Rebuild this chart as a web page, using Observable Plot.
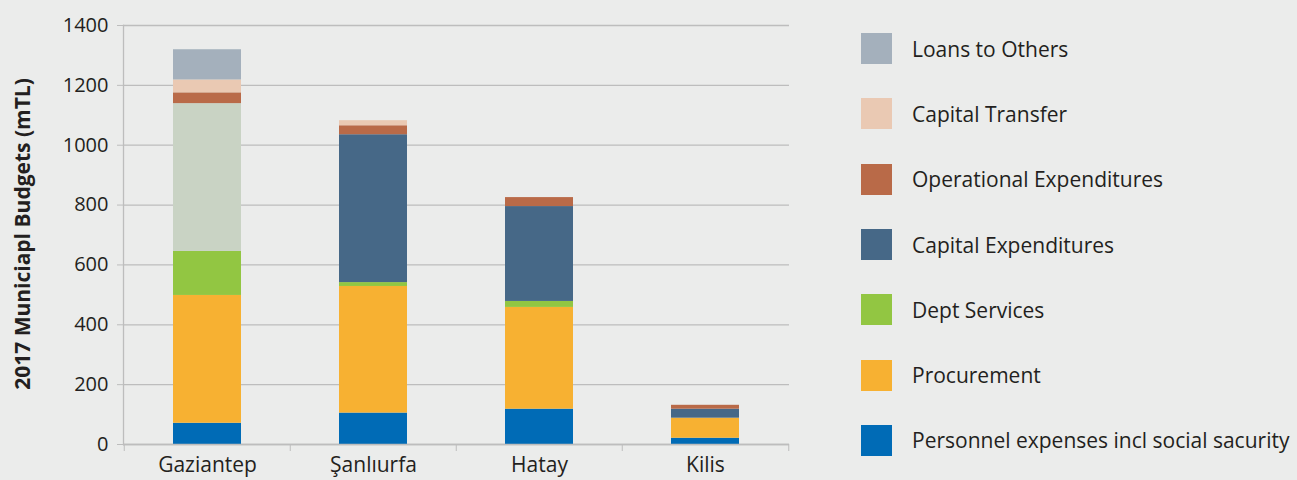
<!DOCTYPE html>
<html>
<head>
<meta charset="utf-8">
<script src="https://cdn.jsdelivr.net/npm/d3@7"></script>
<script src="https://cdn.jsdelivr.net/npm/@observablehq/plot@0.6"></script>
<style>
  html, body { margin: 0; padding: 0; background: #EBECEB; }
  #wrap { position: relative; width: 1297px; height: 480px; font-family: "Open Sans", sans-serif; color: #231F20; }
  #ytitle { position: absolute; left: 22px; top: 234px; transform: translate(-50%, -50%) rotate(-90deg); white-space: nowrap; font-weight: bold; font-size: 21px; }
  #legend { position: absolute; left: 861px; top: 16px; }
  .item { display: flex; align-items: center; height: 65.3px; }
  .sw { width: 31px; height: 31px; margin-right: 20px; flex: none; }
  .lab { font-size: 21px; white-space: nowrap; }
</style>
</head>
<body>
<div id="wrap">
  <div id="chart"></div>
  <div id="ytitle">2017 Municiapl Budgets (mTL)</div>
  <div id="legend"></div>
</div>
<script>
const cities = ["Gaziantep", "Şanlıurfa", "Hatay", "Kilis"];
const series = [
  "Personnel expenses incl social sacurity",
  "Procurement",
  "Dept Services",
  "Capital Expenditures",
  "Operational Expenditures",
  "Capital Transfer",
  "Loans to Others"
];
const seriesColors = ["#006BB6", "#F7B132", "#92C642", "#466887", "#B96A48", "#EAC9B3", "#A4B0BC"];
const personnel       = [71, 105, 118, 21];
const procurement     = [427, 423, 340, 67];
const deptServices    = [147, 13, 20, 0];
const capitalExp      = [494, 494, 317, 30];
const operational     = [36, 30, 30, 13];
const capitalTransfer = [43, 17, 0, 0];
const loans           = [101, 0, 0, 0];
const yTicks = [0, 200, 400, 600, 800, 1000, 1200, 1400];
// Gaziantep's capital expenditures segment is drawn in a distinct fill in the original
const overrideFill = {series: "Capital Expenditures", city: "Gaziantep", fill: "#C9D3C4"};

const values = [personnel, procurement, deptServices, capitalExp, operational, capitalTransfer, loans];
const data = [];
series.forEach((s, i) => {
  cities.forEach((c, j) => {
    let fill = seriesColors[i];
    if (s === overrideFill.series && c === overrideFill.city) fill = overrideFill.fill;
    data.push({city: c, series: s, value: values[i][j], fill});
  });
});

const W = 1297, H = 480, ML = 123, MR = 508, MT = 25, MB = 36;
const step = (W - ML - MR) / cities.length;
const grid = "#BDBDBD";
const txt = "#231F20";

const chart = Plot.plot({
  width: W, height: H,
  marginLeft: ML, marginRight: MR, marginTop: MT, marginBottom: MB,
  style: {background: "transparent", fontFamily: "'Open Sans', sans-serif", color: txt},
  x: {type: "band", domain: cities, paddingInner: 0.59, paddingOuter: 0.295, label: null},
  y: {domain: [0, 1400], label: null},
  color: {type: "identity"},
  marks: [
    Plot.gridY(yTicks, {stroke: grid, strokeOpacity: 1, strokeWidth: 1.3}),
    Plot.frame({anchor: "left", stroke: grid, strokeWidth: 1.3}),
    Plot.axisY({ticks: yTicks, tickFormat: d => String(d), tickSize: 6, tickPadding: 9, fontSize: 20, stroke: grid, fill: txt, label: null}),
    Plot.barY(data, {x: "city", y: "value", fill: "fill", z: "series", order: series}),
    Plot.ruleY([0], {stroke: grid, strokeWidth: 1.3}),
    Plot.axisX({ticks: cities, tickSize: 7, tickFormat: () => "", dx: -step / 2, stroke: grid, label: null}),
    Plot.axisX({ticks: [cities[cities.length - 1]], tickSize: 7, tickFormat: () => "", dx: step / 2, stroke: grid, label: null}),
    Plot.axisX({ticks: cities, tickSize: 0, tickPadding: 13, fontSize: 21, fill: txt, label: null})
  ]
});
document.getElementById("chart").appendChild(chart);

const legend = document.getElementById("legend");
for (let i = series.length - 1; i >= 0; i--) {
  const item = document.createElement("div");
  item.className = "item";
  const sw = document.createElement("div");
  sw.className = "sw";
  sw.style.background = seriesColors[i];
  const lab = document.createElement("div");
  lab.className = "lab";
  lab.textContent = series[i];
  item.appendChild(sw);
  item.appendChild(lab);
  legend.appendChild(item);
}
</script>
</body>
</html>
